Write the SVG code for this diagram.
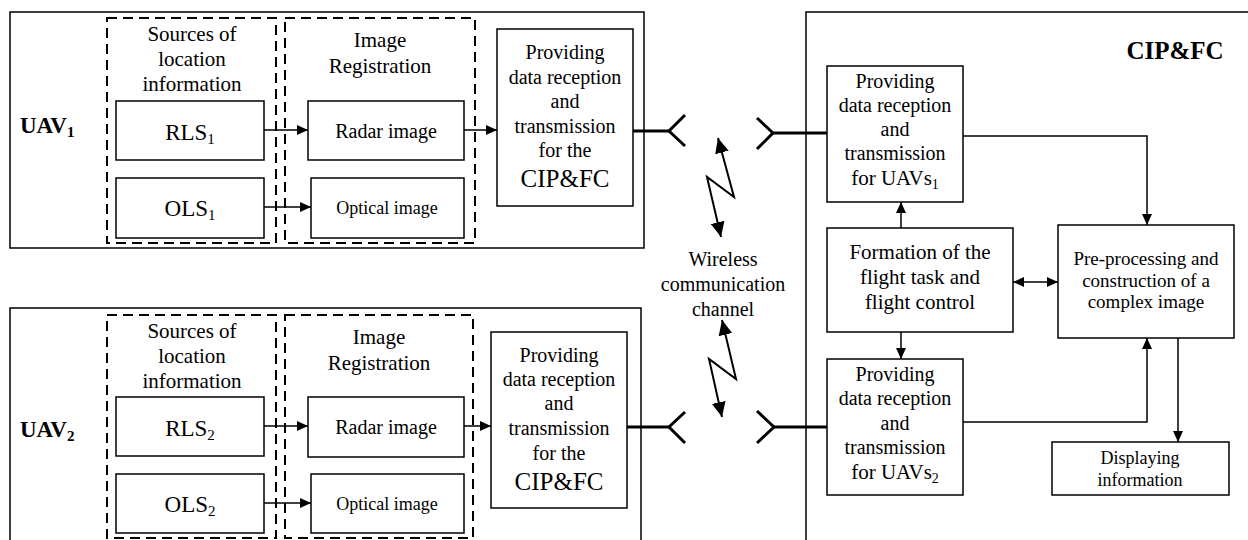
<svg xmlns="http://www.w3.org/2000/svg" width="1248" height="540" viewBox="0 0 1248 540">
  <style>
    .box { fill: none; stroke: #000; stroke-width: 1.5; }
    .frame { fill: none; stroke: #000; stroke-width: 1.5; }
    .dash { fill: none; stroke: #000; stroke-width: 2; stroke-dasharray: 10 6; }
    .t { font-family: "Liberation Serif", "Times New Roman", serif; font-size: 20px; text-anchor: middle; fill: #000; }
    .s18 { font-size: 18px; }
    .s19 { font-size: 19px; }
    .s21 { font-size: 21px; }
    .s23 { font-size: 23px; }
    .s25 { font-size: 25px; }
    .lbl { font-weight: bold; font-size: 23px; text-anchor: start; }
    .b { font-weight: bold; }
    .sub { font-size: 15px; }
    .line { fill: none; stroke: #000; stroke-width: 1.5; }
    .ant { fill: none; stroke: #000; stroke-width: 3; }
    .zig { fill: none; stroke: #000; stroke-width: 2; }
  </style>
  <defs>
    <marker id="arr" markerUnits="userSpaceOnUse" markerWidth="12" markerHeight="10" refX="11" refY="5" orient="auto-start-reverse">
      <path d="M0,0 L11,5 L0,10 z" fill="#000"/>
    </marker>
    <marker id="bigArr" markerUnits="userSpaceOnUse" markerWidth="16" markerHeight="14" refX="15" refY="7" orient="auto-start-reverse">
      <path d="M0,0 L15,7 L0,14 z" fill="#000"/>
    </marker>
  </defs>

  <!-- UAV 1 -->
  <g id="uav1">
    <rect class="frame" x="10" y="12" width="634" height="236"/>
    <text class="t lbl" x="20" y="133">UAV<tspan class="sub" dy="4">1</tspan></text>
  </g>
  <g id="uav1-sources">
    <rect class="dash" x="107" y="18" width="169" height="225"/>
    <text class="t s21" x="192" y="41">Sources of</text>
    <text class="t s21" x="192" y="66">location</text>
    <text class="t s21" x="192" y="91">information</text>
  </g>
  <g id="uav1-registration">
    <rect class="dash" x="285" y="18" width="190" height="225"/>
    <text class="t s21" x="380" y="47">Image</text>
    <text class="t s21" x="380" y="73">Registration</text>
  </g>
  <g id="uav1-rls">
    <rect class="box" x="116" y="101" width="148" height="59"/>
    <text class="t s23" x="190" y="140">RLS<tspan class="sub" dy="4">1</tspan></text>
  </g>
  <g id="uav1-ols">
    <rect class="box" x="116" y="178" width="148" height="60"/>
    <text class="t s23" x="190" y="216">OLS<tspan class="sub" dy="4">1</tspan></text>
  </g>
  <g id="uav1-radar">
    <rect class="box" x="308" y="101" width="156" height="59"/>
    <text class="t" x="386" y="138">Radar image</text>
  </g>
  <g id="uav1-optical">
    <rect class="box" x="311" y="178" width="153" height="60"/>
    <text class="t s18" x="387" y="214">Optical image</text>
  </g>
  <g id="uav1-transceiver">
    <rect class="box" x="497" y="29" width="136" height="177"/>
    <text class="t" x="565" y="59">Providing</text>
    <text class="t" x="565" y="84">data reception</text>
    <text class="t" x="565" y="108">and</text>
    <text class="t" x="565" y="133">transmission</text>
    <text class="t" x="565" y="157">for the</text>
    <text class="t s25" x="565" y="187">CIP&amp;FC</text>
  </g>

  <!-- UAV 2 -->
  <g id="uav2">
    <rect class="frame" x="10" y="308" width="631" height="250"/>
    <text class="t lbl" x="20" y="437">UAV<tspan class="sub" dy="4">2</tspan></text>
  </g>
  <g id="uav2-sources">
    <rect class="dash" x="107" y="315" width="169" height="223"/>
    <text class="t s21" x="192" y="338">Sources of</text>
    <text class="t s21" x="192" y="363">location</text>
    <text class="t s21" x="192" y="388">information</text>
  </g>
  <g id="uav2-registration">
    <rect class="dash" x="285" y="315" width="188" height="223"/>
    <text class="t s21" x="379" y="344">Image</text>
    <text class="t s21" x="379" y="370">Registration</text>
  </g>
  <g id="uav2-rls">
    <rect class="box" x="116" y="397" width="148" height="59"/>
    <text class="t s23" x="190" y="436">RLS<tspan class="sub" dy="4">2</tspan></text>
  </g>
  <g id="uav2-ols">
    <rect class="box" x="116" y="474" width="148" height="59"/>
    <text class="t s23" x="190" y="512">OLS<tspan class="sub" dy="4">2</tspan></text>
  </g>
  <g id="uav2-radar">
    <rect class="box" x="308" y="397" width="156" height="60"/>
    <text class="t" x="386" y="434">Radar image</text>
  </g>
  <g id="uav2-optical">
    <rect class="box" x="311" y="474" width="153" height="59"/>
    <text class="t s18" x="387" y="510">Optical image</text>
  </g>
  <g id="uav2-transceiver">
    <rect class="box" x="491" y="332" width="136" height="176"/>
    <text class="t" x="559" y="362">Providing</text>
    <text class="t" x="559" y="386">data reception</text>
    <text class="t" x="559" y="410">and</text>
    <text class="t" x="559" y="435">transmission</text>
    <text class="t" x="559" y="460">for the</text>
    <text class="t s25" x="559" y="490">CIP&amp;FC</text>
  </g>

  <!-- Wireless channel label -->
  <g id="channel">
    <text class="t" x="723" y="266">Wireless</text>
    <text class="t" x="723" y="291">communication</text>
    <text class="t" x="723" y="316">channel</text>
  </g>

  <!-- Control and processing centre -->
  <g id="cipfc">
    <rect class="frame" x="806" y="12" width="460" height="550"/>
    <text class="t b s25" x="1175" y="59">CIP&amp;FC</text>
  </g>
  <g id="rx1">
    <rect class="box" x="827" y="66" width="136" height="136"/>
    <text class="t" x="895" y="88">Providing</text>
    <text class="t" x="895" y="112">data reception</text>
    <text class="t" x="895" y="136">and</text>
    <text class="t" x="895" y="160">transmission</text>
    <text class="t s21" x="895" y="185">for UAVs<tspan dy="4" font-size="14">1</tspan></text>
  </g>
  <g id="flight-control">
    <rect class="box" x="827" y="228" width="186" height="104"/>
    <text class="t s21" x="920" y="259">Formation of the</text>
    <text class="t s21" x="920" y="284">flight task and</text>
    <text class="t s21" x="920" y="309">flight control</text>
  </g>
  <g id="rx2">
    <rect class="box" x="827" y="359" width="136" height="136"/>
    <text class="t" x="895" y="381">Providing</text>
    <text class="t" x="895" y="405">data reception</text>
    <text class="t" x="895" y="430">and</text>
    <text class="t" x="895" y="454">transmission</text>
    <text class="t s21" x="895" y="479">for UAVs<tspan dy="4" font-size="14">2</tspan></text>
  </g>
  <g id="preprocessing">
    <rect class="box" x="1058" y="225" width="176" height="113"/>
    <text class="t s19" x="1146" y="265">Pre-processing and</text>
    <text class="t s19" x="1146" y="287">construction of a</text>
    <text class="t s19" x="1146" y="308">complex image</text>
  </g>
  <g id="display">
    <rect class="box" x="1052" y="442" width="177" height="53"/>
    <text class="t s18" x="1140" y="464">Displaying</text>
    <text class="t s18" x="1140" y="486">information</text>
  </g>

  <!-- Connectors -->
  <g id="connectors">
    <path class="line" d="M264,130 H308" marker-end="url(#arr)"/>
    <path class="line" d="M264,207 H311" marker-end="url(#arr)"/>
    <path class="line" d="M464,130 H497" marker-end="url(#arr)"/>
    <path class="line" d="M264,426 H308" marker-end="url(#arr)"/>
    <path class="line" d="M264,503 H311" marker-end="url(#arr)"/>
    <path class="line" d="M464,426 H491" marker-end="url(#arr)"/>

    <!-- antennas -->
    <path class="ant" d="M633,131 H669"/>
    <path class="ant" d="M685,115 L669,131 L685,146"/>
    <path class="ant" d="M757,118 L773,133 L757,149"/>
    <path class="ant" d="M773,133 H827"/>
    <path class="ant" d="M627,427 H669"/>
    <path class="ant" d="M685,412 L669,427 L685,443"/>
    <path class="ant" d="M757,411 L774,427 L757,443"/>
    <path class="ant" d="M774,427 H827"/>

    <!-- radio links -->
    <polyline class="zig" points="718,138 734,197 707,177 721,237" marker-start="url(#bigArr)" marker-end="url(#bigArr)"/>
    <polyline class="zig" points="722,320 736,379 709,359 722,417" marker-start="url(#bigArr)" marker-end="url(#bigArr)"/>

    <!-- inside the centre -->
    <path class="line" d="M963,136 H1147 V225" marker-end="url(#arr)"/>
    <path class="line" d="M901,228 V202" marker-end="url(#arr)"/>
    <path class="line" d="M1013,282 H1058" marker-start="url(#arr)" marker-end="url(#arr)"/>
    <path class="line" d="M901,332 V359" marker-end="url(#arr)"/>
    <path class="line" d="M963,422 H1147 V338" marker-end="url(#arr)"/>
    <path class="line" d="M1178,338 V442" marker-end="url(#arr)"/>
  </g>
</svg>
